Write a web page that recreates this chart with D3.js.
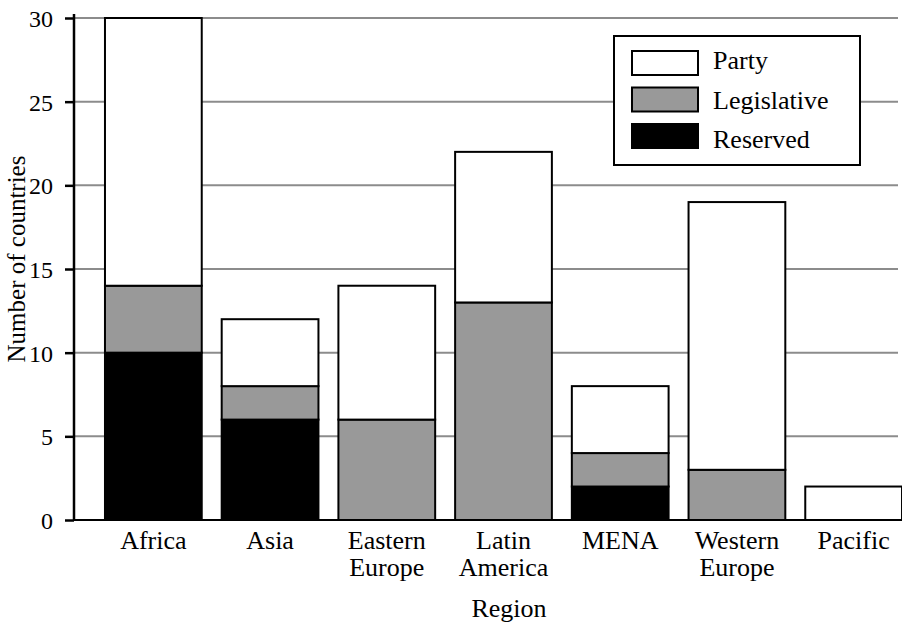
<!DOCTYPE html>
<html lang="en">
  <head>
    <meta charset="UTF-8" />
    <title>Number of countries by region</title>
    <script src="https://cdnjs.cloudflare.com/ajax/libs/d3/7.8.5/d3.min.js"></script>
    <style>
      body { margin: 0; background: #fff; }
      text { font-family: "Liberation Serif", "Times New Roman", serif; fill: #000; }
    </style>
  </head>
  <body>
    <div id="chart"></div>
    <script>
      /** Data */
      const regions = ["Africa", "Asia", "Eastern Europe", "Latin America", "MENA", "Western Europe", "Pacific"];
      const regionLines = [["Africa"], ["Asia"], ["Eastern", "Europe"], ["Latin", "America"], ["MENA"], ["Western", "Europe"], ["Pacific"]];
      const reserved = [10, 6, 0, 0, 2, 0, 0];
      const legislative = [4, 2, 6, 13, 2, 3, 0];
      const party = [16, 4, 8, 9, 4, 16, 2];
      const seriesNames = ["Reserved", "Legislative", "Party"];
      const legendOrder = ["Party", "Legislative", "Reserved"];
      const yTicks = [0, 5, 10, 15, 20, 25, 30];

      /** Config */
      const width = 902;
      const height = 630;
      const plotLeft = 74;
      const plotRight = 898;
      const plotTop = 18;
      const plotBottom = 520;
      const colors = { Reserved: "#000", Legislative: "#999", Party: "#fff" };

      const rows = regions.map((r, i) => ({
        region: r,
        Reserved: reserved[i],
        Legislative: legislative[i],
        Party: party[i],
      }));
      const stacked = d3.stack().keys(seriesNames)(rows);

      const x = d3.scaleBand().domain(regions).range([95, 912]).paddingInner(0.171).paddingOuter(0.0855);
      const y = d3.scaleLinear().domain([0, 30]).range([plotBottom, plotTop]);

      const svg = d3.select("#chart").append("svg").attr("width", width).attr("height", height);

      /** Gridlines */
      svg.append("g")
        .selectAll("line")
        .data(yTicks.filter((t) => t > 0))
        .join("line")
        .attr("x1", plotLeft)
        .attr("x2", plotRight)
        .attr("y1", (d) => y(d))
        .attr("y2", (d) => y(d))
        .attr("stroke", "#8c8c8c")
        .attr("stroke-width", 2);

      /** Bars */
      svg.append("g")
        .selectAll("g")
        .data(stacked)
        .join("g")
        .attr("fill", (s) => colors[s.key])
        .selectAll("rect")
        .data((s) => s.filter((d) => d[1] - d[0] > 0))
        .join("rect")
        .attr("x", (d) => x(d.data.region))
        .attr("width", x.bandwidth())
        .attr("y", (d) => y(d[1]))
        .attr("height", (d) => y(d[0]) - y(d[1]))
        .attr("stroke", "#000")
        .attr("stroke-width", 2);

      /** Axes */
      const yAxis = d3.axisLeft(y).tickValues(yTicks).tickSize(9).tickPadding(12);
      const gy = svg.append("g").attr("transform", `translate(${plotLeft},0)`).call(yAxis);
      gy.select(".domain").attr("d", `M0,${plotTop - 4}V${plotBottom}`).attr("stroke-width", 2.5);
      gy.selectAll(".tick line").attr("stroke-width", 2.5);
      gy.selectAll(".tick text").attr("font-size", 24).attr("font-family", "Liberation Serif, serif").attr("dy", "0.35em");

      svg.append("line")
        .attr("x1", plotLeft)
        .attr("x2", plotRight)
        .attr("y1", plotBottom)
        .attr("y2", plotBottom)
        .attr("stroke", "#000")
        .attr("stroke-width", 2);

      /** Category labels */
      const labels = svg.append("g")
        .selectAll("text")
        .data(regions)
        .join("text")
        .attr("text-anchor", "middle")
        .attr("font-size", 26)
        .attr("y", 549);
      labels.selectAll("tspan")
        .data((d, i) => regionLines[i].map((line) => ({ line, region: d })))
        .join("tspan")
        .attr("x", (d) => x(d.region) + x.bandwidth() / 2)
        .attr("dy", (d, i) => (i === 0 ? 0 : 27))
        .text((d) => d.line);

      /** Axis titles */
      svg.append("text")
        .attr("x", 509)
        .attr("y", 617)
        .attr("text-anchor", "middle")
        .attr("font-size", 26)
        .text("Region");
      svg.append("text")
        .attr("transform", "translate(25,259) rotate(-90)")
        .attr("text-anchor", "middle")
        .attr("font-size", 25)
        .text("Number of countries");

      /** Legend */
      const legend = svg.append("g");
      legend.append("rect")
        .attr("x", 614)
        .attr("y", 36)
        .attr("width", 246)
        .attr("height", 129)
        .attr("fill", "#fff")
        .attr("stroke", "#000")
        .attr("stroke-width", 2);
      const item = legend.selectAll("g")
        .data(legendOrder)
        .join("g");
      item.append("rect")
        .attr("x", 632)
        .attr("y", (d, i) => 51 + i * 36.5)
        .attr("width", 66)
        .attr("height", 24)
        .attr("fill", (d) => colors[d])
        .attr("stroke", "#000")
        .attr("stroke-width", 2);
      item.append("text")
        .attr("x", 713)
        .attr("y", (d, i) => 69 + i * 39.5)
        .attr("font-size", 26)
        .text((d) => d);
    </script>
  </body>
</html>
